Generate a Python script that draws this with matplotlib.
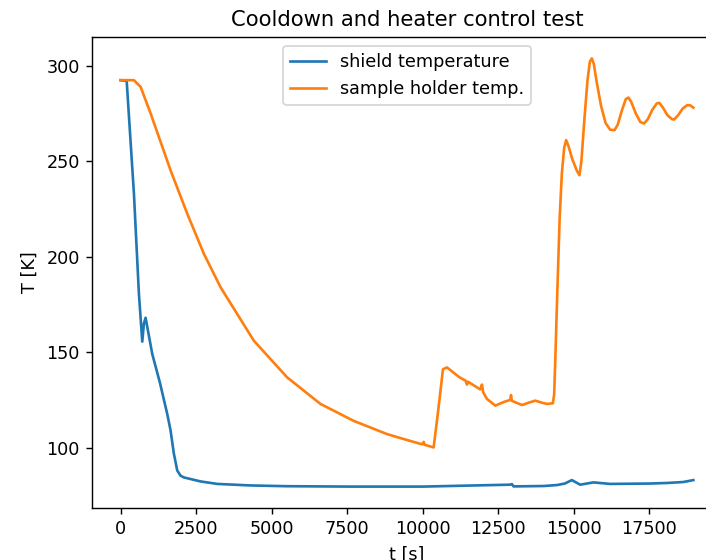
import numpy as np
import matplotlib.pyplot as plt

# shield temperature (blue)
t_shield = [0, 200, 440, 605, 716, 770, 826, 1047, 1300, 1543, 1653, 1760, 1874,
            1984, 2094, 2645, 3196, 4298, 5500, 7604, 10000, 12012, 12895, 12950,
            13005, 14000, 14438, 14700, 14934, 15209, 15650, 16201, 17524, 18100,
            18625, 18956]
T_shield = [292.4, 292.0, 233.0, 180.5, 155.5, 165.0, 168.0, 149.0, 134.0, 117.6,
            109.0, 97.0, 88.0, 85.3, 84.4, 82.3, 81.0, 80.2, 79.8, 79.6, 79.6,
            80.3, 80.6, 80.9, 79.7, 79.9, 80.4, 81.2, 83.0, 80.6, 81.8, 81.0, 81.2,
            81.5, 82.0, 83.0]

# sample holder temperature (orange)
t_sample = [0, 440, 661, 992, 1653, 2204, 2755, 3306, 4408, 5510, 6612, 7714, 8816,
            9258, 9918, 10000, 10030, 10060, 10360, 10500, 10668, 10800, 11200,
            11420, 11462, 11500, 11900, 11958, 12000, 12124, 12399, 12700, 12895,
            12920, 12950, 13282, 13500, 13721, 13950, 14107, 14306, 14350, 14382,
            14450, 14530, 14603, 14680, 14746, 14820, 14950, 15100, 15186, 15250,
            15350, 15450, 15530, 15595, 15660, 15750, 15900, 16050, 16200, 16344,
            16450, 16600, 16720, 16807, 16900, 17050, 17200, 17325, 17450, 17600,
            17750, 17831, 17950, 18100, 18250, 18317, 18450, 18600, 18750, 18846,
            18956]
T_sample = [292.4, 292.4, 288.9, 275.0, 245.2, 222.5, 201.5, 184.0, 156.0, 136.8,
            122.9, 114.0, 107.1, 105.0, 102.0, 101.8, 103.0, 101.5, 100.1, 118.0,
            141.0, 142.0, 137.0, 135.0, 133.0, 134.5, 130.5, 133.0, 129.0, 125.5,
            122.0, 124.0, 125.0, 127.5, 124.5, 122.3, 123.5, 124.6, 123.5, 122.9,
            123.2, 128.0, 143.8, 180.0, 220.0, 243.5, 257.0, 261.0, 258.0, 251.0,
            245.0, 242.6, 250.0, 272.0, 292.0, 302.0, 303.8, 301.0, 292.0, 279.0,
            270.0, 266.5, 266.2, 269.0, 277.0, 282.5, 283.3, 281.0, 275.0, 270.5,
            269.7, 272.0, 277.0, 280.3, 280.5, 278.0, 274.0, 272.0, 271.8, 274.0,
            277.5, 279.3, 279.3, 278.0]

fig = plt.figure(figsize=(706 / 127, 560 / 127), dpi=127)
ax = fig.add_axes([92 / 706, 52 / 560, 630 / 706, 471 / 560])

ax.plot(t_shield, T_shield, label='shield temperature')
ax.plot(t_sample, T_sample, label='sample holder temp.')
ax.set_title('Cooldown and heater control test')
ax.set_xlabel('t [s]')
ax.set_ylabel('T [K]')
ax.set_xticks([0, 2500, 5000, 7500, 10000, 12500, 15000, 17500])
ax.set_yticks([100, 150, 200, 250, 300])
ax.spines['right'].set_visible(False)
ax.legend(loc='upper center')

fig.savefig('out.png', dpi=127)
